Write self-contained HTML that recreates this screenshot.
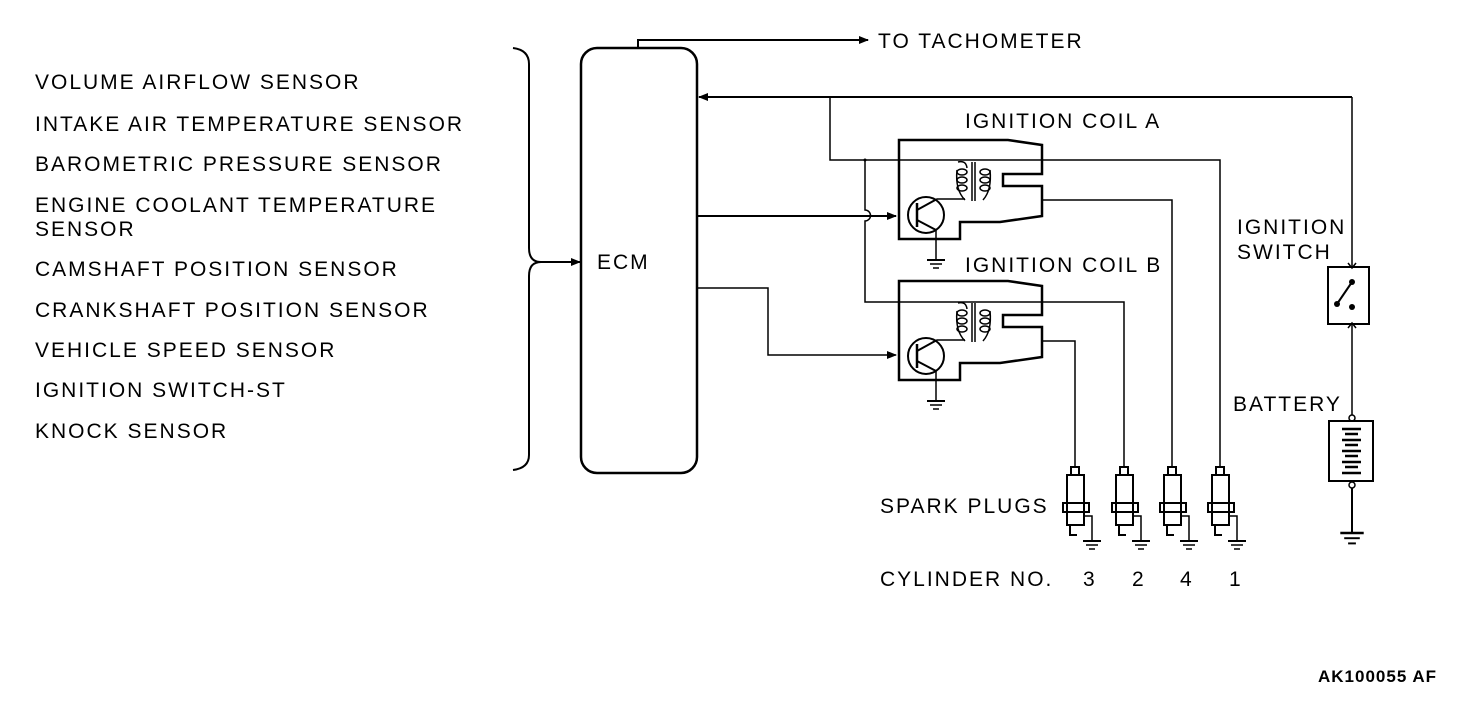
<!DOCTYPE html>
<html><head><meta charset="utf-8"><style>
html,body{margin:0;padding:0;background:#fff}
svg{display:block}
text{font-family:"Liberation Sans",sans-serif;font-size:21px;fill:#000;letter-spacing:2px}
</style></head><body>
<svg width="1472" height="704" viewBox="0 0 1472 704" xmlns="http://www.w3.org/2000/svg">
<defs>
<marker id="ar" markerWidth="10" markerHeight="8" refX="9" refY="4" orient="auto" markerUnits="userSpaceOnUse"><path d="M0,0 L10,4 L0,8 Z" fill="#000"/></marker>
<g id="gnd"><line x1="-9" y1="0" x2="9" y2="0" stroke="#000" stroke-width="2"/><line x1="-6" y1="4" x2="6" y2="4" stroke="#000" stroke-width="1.5"/><line x1="-3" y1="8" x2="3" y2="8" stroke="#000" stroke-width="1.5"/></g>
<g id="coil" fill="none" stroke="#000">
<path d="M899,140 L1008,140 L1042,145 L1042,174 L1003,174 L1003,186 L1042,186 L1042,216 L1000,222 L960,222 L960,239 L899,239 Z" stroke-width="2.5"/>
<g stroke-width="1.5">
<ellipse cx="962" cy="172" rx="5" ry="3"/><ellipse cx="962" cy="180" rx="5" ry="3"/><ellipse cx="962" cy="188" rx="5" ry="3"/>
<ellipse cx="985" cy="172" rx="5" ry="3"/><ellipse cx="985" cy="180" rx="5" ry="3"/><ellipse cx="985" cy="188" rx="5" ry="3"/>
<line x1="972" y1="162" x2="972" y2="201"/><line x1="975" y1="162" x2="975" y2="201"/>
<path d="M957,170 Q955,190 965,200"/><path d="M990,170 Q992,190 983,200"/>
<path d="M958,162 Q966,160 967,168"/>
</g>
<circle cx="926" cy="215" r="18" stroke-width="2"/>
<line x1="917" y1="203" x2="917" y2="227" stroke-width="2.5"/>
<line x1="917" y1="210" x2="937" y2="199" stroke-width="2"/>
<line x1="937" y1="199" x2="965" y2="199" stroke-width="1.5"/>
<line x1="917" y1="220" x2="936" y2="230" stroke-width="2"/>
<line x1="936" y1="230" x2="936" y2="260" stroke-width="1.5"/>
<use href="#gnd" x="936" y="260"/>
</g>
<g id="plug" fill="none" stroke="#000" stroke-width="2">
<rect x="-4" y="467" width="8" height="8"/>
<rect x="-8" y="475" width="17" height="50"/>
<rect x="-12" y="503" width="26" height="9"/>
<path d="M-5,525 L-5,535 L2,535" />
<path d="M9,516 L17,516 L17,540" stroke-width="1.5"/>
<use href="#gnd" x="17" y="541"/>
</g>
</defs>

<text x="35" y="89">VOLUME AIRFLOW SENSOR</text>
<text x="35" y="131">INTAKE AIR TEMPERATURE SENSOR</text>
<text x="35" y="171">BAROMETRIC PRESSURE SENSOR</text>
<text x="35" y="212">ENGINE COOLANT TEMPERATURE</text>
<text x="35" y="236">SENSOR</text>
<text x="35" y="276">CAMSHAFT POSITION SENSOR</text>
<text x="35" y="317">CRANKSHAFT POSITION SENSOR</text>
<text x="35" y="357">VEHICLE SPEED SENSOR</text>
<text x="35" y="397">IGNITION SWITCH-ST</text>
<text x="35" y="438">KNOCK SENSOR</text>

<path d="M513,48 Q529,50 529,64 L529,248 Q529,262 541,262 Q529,262 529,276 L529,455 Q529,468 513,470" fill="none" stroke="#000" stroke-width="2"/>
<line x1="541" y1="262" x2="580" y2="262" stroke="#000" stroke-width="2" marker-end="url(#ar)"/>

<rect x="581" y="48" width="116" height="425" rx="16" fill="none" stroke="#000" stroke-width="2.5"/>
<text x="597" y="269">ECM</text>

<path d="M638,48 L638,40 L868,40" fill="none" stroke="#000" stroke-width="2" marker-end="url(#ar)"/>
<text x="878" y="48">TO TACHOMETER</text>

<line x1="1352" y1="97" x2="699" y2="97" stroke="#000" stroke-width="2" marker-end="url(#ar)"/>
<path d="M830,97 L830,160 L1220,160 L1220,467" fill="none" stroke="#000" stroke-width="1.5"/>
<path d="M865,160 L865,210 A5,5 0 0 1 865,221 L865,302 L1124,302 L1124,467" fill="none" stroke="#000" stroke-width="1.5"/>
<circle cx="865" cy="160" r="1.5"/>

<line x1="697" y1="216" x2="896" y2="216" stroke="#000" stroke-width="2" marker-end="url(#ar)"/>
<path d="M697,288 L768,288 L768,355 L896,355" fill="none" stroke="#000" stroke-width="1.5" marker-end="url(#ar)"/>

<use href="#coil"/>
<use href="#coil" y="141"/>
<path d="M1042,200 L1172,200 L1172,467" fill="none" stroke="#000" stroke-width="1.5"/>
<path d="M1042,341 L1075,341 L1075,467" fill="none" stroke="#000" stroke-width="1.5"/>
<text x="965" y="128">IGNITION COIL A</text>
<text x="965" y="272">IGNITION COIL B</text>

<use href="#plug" x="1075"/>
<use href="#plug" x="1124"/>
<use href="#plug" x="1172"/>
<use href="#plug" x="1220"/>
<text x="880" y="513">SPARK PLUGS</text>
<text x="880" y="586">CYLINDER NO.</text>
<text x="1083" y="586">3</text>
<text x="1132" y="586">2</text>
<text x="1180" y="586">4</text>
<text x="1229" y="586">1</text>

<line x1="1352" y1="97" x2="1352" y2="267" stroke="#000" stroke-width="1.5"/>
<rect x="1328" y="267" width="41" height="57" fill="none" stroke="#000" stroke-width="2"/>
<path d="M1348,263 L1352,268 L1356,263 M1348,328 L1352,323 L1356,328" fill="none" stroke="#000" stroke-width="1.5"/>
<circle cx="1352" cy="282" r="3"/><circle cx="1352" cy="307" r="3"/><circle cx="1337" cy="304" r="3"/>
<line x1="1337" y1="304" x2="1352" y2="282" stroke="#000" stroke-width="2"/>
<line x1="1352" y1="324" x2="1352" y2="417" stroke="#000" stroke-width="1.5"/>
<text x="1237" y="234">IGNITION</text>
<text x="1237" y="259">SWITCH</text>

<circle cx="1352" cy="418" r="3" fill="#fff" stroke="#000" stroke-width="1.5"/>
<rect x="1329" y="421" width="44" height="60" fill="none" stroke="#000" stroke-width="2"/>
<g stroke="#000" stroke-width="2.5">
<line x1="1342" y1="429" x2="1361" y2="429"/><line x1="1345" y1="434" x2="1358" y2="434"/>
<line x1="1342" y1="440" x2="1361" y2="440"/><line x1="1345" y1="445" x2="1358" y2="445"/>
<line x1="1342" y1="451" x2="1361" y2="451"/><line x1="1345" y1="456" x2="1358" y2="456"/>
<line x1="1342" y1="462" x2="1361" y2="462"/><line x1="1345" y1="467" x2="1358" y2="467"/>
<line x1="1342" y1="473" x2="1361" y2="473"/>
</g>
<circle cx="1352" cy="485" r="3" fill="#fff" stroke="#000" stroke-width="1.5"/>
<line x1="1352" y1="488" x2="1352" y2="532" stroke="#000" stroke-width="2"/>
<g transform="translate(1352,533) scale(1.3)"><use href="#gnd"/></g>
<text x="1233" y="411">BATTERY</text>

<text x="1318" y="682" style="font-size:17px;font-weight:bold;letter-spacing:1px">AK100055 AF</text>
</svg>
</body></html>
